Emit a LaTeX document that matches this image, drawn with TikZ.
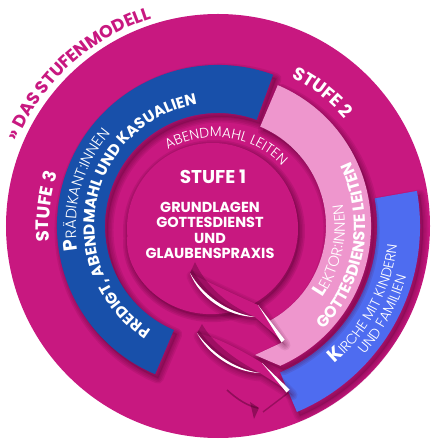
\documentclass[tikz,border=0pt]{standalone}
\usepackage{fontspec}
\setmainfont{Poppins}
\newfontfamily\poplight{Poppins Light}
\usetikzlibrary{decorations.text}
\definecolor{mag}{RGB}{200,24,128}
\definecolor{shadowc}{RGB}{80,0,45}
\definecolor{dblue}{RGB}{24,80,170}
\definecolor{pinkb}{RGB}{238,150,205}
\definecolor{lblue}{RGB}{78,108,240}
\def\kirchepath{(10:202) arc[start angle=10,end angle=-67,radius=202] -- (-67:159) arc[start angle=-67,end angle=10,radius=159] -- cycle}
\def\bluepath{(70:161) arc[start angle=70,end angle=247,radius=161] -- (247:113) arc[start angle=247,end angle=70,radius=113] -- cycle}
\def\pinkpath{(67:153) arc[start angle=67,end angle=-66,radius=153] -- (37,-129) -- (65,-116) -- (-61.8:108) arc[start angle=-61.8,end angle=67,radius=108] -- cycle}
\def\discpath{([shift={(-5.5,-2.5)}]-80:85.5) arc[start angle=-80,end angle=185,radius=85.5] .. controls (-95,-50) and (-50,-97) .. cycle}
\def\tailonepath{(-28,-47) .. controls (-18,-72) and (8,-90) .. (37,-91) -- (65,-116) -- (40,-79) .. controls (15,-68) and (-12,-55) .. cycle}
\def\tailtwopath{(-21,-107) .. controls (-10,-128) and (15,-146) .. (42,-147) -- (72,-166) -- (44,-137) .. controls (20,-122) and (-5,-110) .. cycle}
\newcommand\sshadow[3][0.09]{%
  \begin{scope}[shift={#2}]
    \foreach \w in {2,5,8,11}{\draw[shadowc, draw opacity=#1, line width=\w, line join=round] #3;}
    \fill[shadowc, fill opacity=0.2] #3;
  \end{scope}}
\tikzset{
  arctext/.style={decorate, decoration={text along path, text align=center, text={#1}}},
}
\begin{document}
\begin{tikzpicture}[x=1pt,y=1pt]
\useasboundingbox (-218,-217) rectangle (212,226);
\fill[white] (-218,-217) rectangle (212,226);
% outer disc
\fill[mag] (0,0) circle[radius=212];
% tail 3 marks
\draw[shadowc, opacity=.45, line width=1.6] (9,-164) .. controls (20,-174) and (30,-180) .. (40,-182);
\fill[shadowc, opacity=.45] (32,-176) -- (41,-182) -- (36,-193) -- cycle;
\draw[shadowc, opacity=.4, line width=1.4] (45,-186) -- (70,-167);
% Kirche band
\sshadow{(3,-4)}{\kirchepath}
\fill[lblue] \kirchepath;
% blue band
\sshadow[0.11]{(3,-4)}{\bluepath}
\fill[dblue] \bluepath;
% pink band
\sshadow[0.11]{(3,-4)}{\pinkpath}
\fill[pinkb] \pinkpath;
% tail 2
\sshadow{(2,-3)}{\tailtwopath}
\fill[mag] \tailtwopath;
\fill[shadowc, opacity=.35] (-21,-107) .. controls (-8,-125) and (15,-143) .. (42,-147) .. controls (14,-132) and (-6,-116) .. (-16,-98) -- cycle;
\fill[shadowc, opacity=.3] (-21,-107) .. controls (-8,-125) and (15,-143) .. (42,-147) .. controls (14,-139) and (-7,-122) .. (-19,-104) -- cycle;
\fill[white] (-21,-107) .. controls (-10,-128) and (15,-146) .. (42,-147) .. controls (15,-143) and (-8,-125) .. (-21,-107) -- cycle;
\fill[white] (44,-137) -- (71.5,-163.5) -- (68.5,-166.5) -- cycle;
% stufe 1 disc
\sshadow[0.13]{(1.5,-2.5)}{\discpath}
\fill[mag] \discpath;
% tail 1
\sshadow{(2,-3)}{\tailonepath}
\fill[mag] \tailonepath;
\fill[shadowc, opacity=.35] (-28,-47) .. controls (-15.5,-69) and (9,-86.5) .. (37,-91) .. controls (8,-78) and (-12,-60) .. (-23,-36) -- cycle;
\fill[shadowc, opacity=.3] (-28,-47) .. controls (-15.5,-69) and (9,-86.5) .. (37,-91) .. controls (8,-84) and (-13,-66) .. (-26,-43) -- cycle;
\fill[white] (-28,-47) .. controls (-18,-72) and (8,-90) .. (37,-91) .. controls (9,-86.5) and (-15.5,-69) .. (-28,-47) -- cycle;
\fill[white] (40,-79) -- (66.5,-113.5) -- (63.5,-116.5) -- cycle;
% curved texts
\path[arctext={|\fontsize{17.5}{17.5}\selectfont\bfseries\color{mag}|»\ DAS STUFENMODELL}] (172:218) arc[start angle=172,end angle=93,radius=218];
\path[arctext={|\fontsize{18}{18}\selectfont\bfseries\color{white}|STUFE 2}] (90:166) arc[start angle=90,end angle=14,radius=166];
\path[arctext={|\fontsize{18}{18}\selectfont\bfseries\color{white}|STUFE 3}] (210:169) arc[start angle=210,end angle=137,radius=169];
\path[arctext={|\fontsize{19}{19}\selectfont\bfseries\color{white}|P|\fontsize{15}{15}\selectfont\poplight\color{white}|RÄDIKANT:INNEN}] (200:142) arc[start angle=200,end angle=129,radius=142];
\path[arctext={|\fontsize{15.5}{15.5}\selectfont\bfseries\color{white}|PREDIGT, ABENDMAHL UND KASUALIEN}] (255:123.5) arc[start angle=255,end angle=82,radius=123.5];
\path[arctext={|\fontsize{14}{14}\selectfont\poplight\color{white}|ABENDMAHL LEITEN}] ([shift={(-3,-3)}]130:92) arc[start angle=130,end angle=34,radius=92];
\path[arctext={|\fontsize{19}{19}\selectfont\bfseries\color{white}|L|\fontsize{15}{15}\selectfont\poplight\color{white}|EKTOR:INNEN}] (-45:127) arc[start angle=-45,end angle=20.4,radius=127];
\path[arctext={|\fontsize{16}{16}\selectfont\bfseries\color{white}|GOTTESDIENSTE LEITEN}] (-55:147.5) arc[start angle=-55,end angle=36.5,radius=147.5];
\path[arctext={|\fontsize{19}{19}\selectfont\bfseries\color{white}|K|\fontsize{14}{14}\selectfont\poplight\color{white}|IRCHE MIT KINDERN}] (-60:180) arc[start angle=-60,end angle=4.2,radius=180];
\path[arctext={|\fontsize{14}{14}\selectfont\poplight\color{white}|UND FAMILIEN}] (-50:195) arc[start angle=-50,end angle=-6.4,radius=195];
% inner texts
\node[text=white, font=\bfseries\fontsize{18.5}{18.5}\selectfont, inner sep=0] (s1) at (-5,49.5) {STUFE 1};
\node[text=white, font=\bfseries\fontsize{14.5}{15.3}\selectfont, align=center, inner sep=0] (s1t) at (-8,-4.5) {GRUNDLAGEN\\GOTTESDIENST\\UND\\GLAUBENSPRAXIS};
\end{tikzpicture}
\end{document}
